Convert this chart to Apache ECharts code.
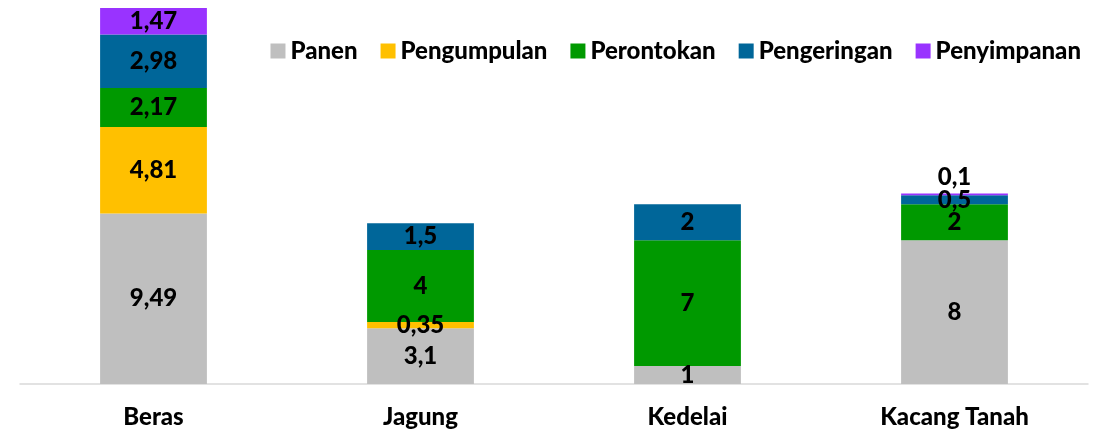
<!DOCTYPE html>
<html>
<head>
<meta charset="utf-8">
<script src="https://cdn.jsdelivr.net/npm/echarts@6/dist/echarts.min.js"></script>
<style>
  html, body { margin: 0; padding: 0; background: #fff; }
  #chart { width: 1112px; height: 434px; }
</style>
</head>
<body>
<div id="chart"></div>
<script>
// komoditas
const categories = ["Beras", "Jagung", "Kedelai", "Kacang Tanah"]

// susut per tahapan (null = tidak ada)
const panen = [9.49, 3.1, 1, 8]
const pengumpulan = [4.81, 0.35, null, null]
const perontokan = [2.17, 4, 7, 2]
const pengeringan = [2.98, 1.5, 2, 0.5]
const penyimpanan = [1.47, null, null, 0.1]

const seriesNames = ["Panen", "Pengumpulan", "Perontokan", "Pengeringan", "Penyimpanan"]
const seriesData = [panen, pengumpulan, perontokan, pengeringan, penyimpanan]
const colors = ["#BFBFBF", "#FFC000", "#009900", "#006699", "#9933FF"]

const font = "Lato, 'Open Sans', sans-serif"
const fsz = 24

function fmt(p) {
  return String(p.value).replace(".", ",")
}

const series = seriesNames.map((name, i) => ({
  name: name,
  type: "bar",
  stack: "total",
  barCategoryGap: "60%",
  itemStyle: { color: colors[i] },
  label: {
    show: true,
    position: "inside",
    color: "#000",
    fontSize: fsz,
    fontWeight: 900,
    fontFamily: font,
    formatter: fmt
  },
  data: seriesData[i].map((v, j) => {
    // label kecil di atas batang kacang tanah
    if (i === 4 && j === 3) {
      return { value: v, label: { position: "top", distance: 4 } }
    }
    return v
  })
}))

const chart = echarts.init(document.getElementById("chart"), null, { renderer: "canvas" })
chart.setOption({
  animation: false,
  textStyle: { fontFamily: font },
  grid: {
    top: 6.6,
    bottom: 50,
    left: 20,
    right: 24,
    containLabel: false
  },
  legend: {
    top: 34,
    right: 26,
    itemWidth: 15,
    itemHeight: 15,
    itemGap: 23,
    icon: "rect",
    textStyle: {
      fontSize: fsz,
      fontWeight: 900,
      color: "#000",
      fontFamily: font
    },
    data: seriesNames
  },
  xAxis: {
    type: "category",
    data: categories,
    axisLine: { lineStyle: { color: "#D9D9D9", width: 1.5 } },
    axisTick: { show: false },
    axisLabel: {
      color: "#000",
      fontSize: fsz,
      fontWeight: 900,
      fontFamily: font,
      margin: 21
    }
  },
  yAxis: {
    type: "value",
    min: 0,
    max: 21,
    show: false,
    splitLine: { show: false }
  },
  series: series
})
</script>
</body>
</html>
